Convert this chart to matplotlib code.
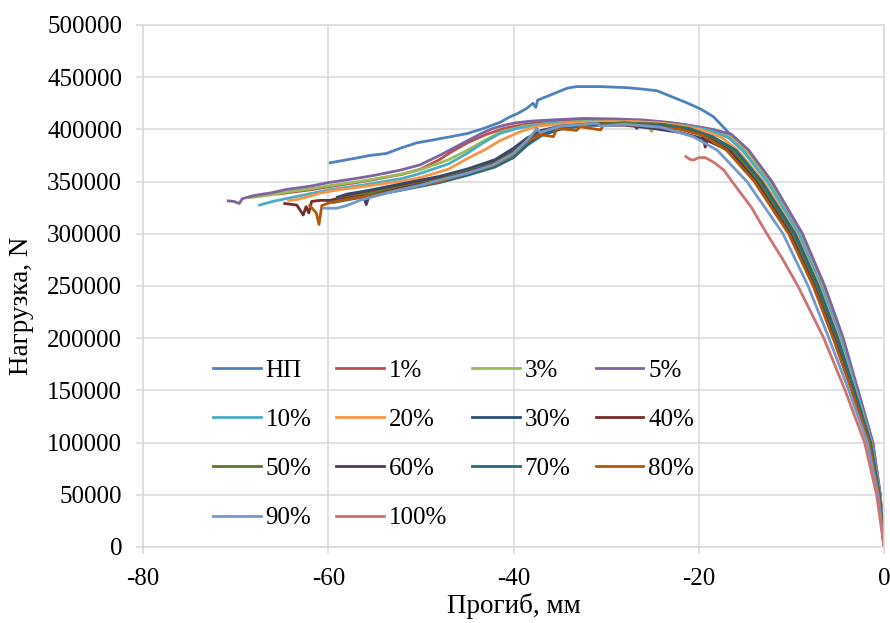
import matplotlib.pyplot as plt
from matplotlib.ticker import FuncFormatter

plt.rcParams['font.family'] = ['Liberation Serif', 'DejaVu Serif']
plt.rcParams['axes.unicode_minus'] = False

# series labels and colours (Excel palette)
labels = ['НП', '1%', '3%', '5%', '10%', '20%', '30%', '40%',
          '50%', '60%', '70%', '80%', '90%', '100%']
colors = ['#4F81BD', '#C0504D', '#9BBB59', '#8064A2', '#4BACC6', '#F79646', '#2C4D75',
          '#772C2A', '#5F7530', '#4D3B62', '#276A7C', '#B65708', '#729ACA', '#CD7371']

# deflection (mm) and load (kN)
x_np = [-59.8, -57.3, -55.5, -53.7, -52.2, -50.5, -48.6, -46.8, -45.0, -43.2, -41.4, -40.4, -39.6,
        -38.6, -37.9, -37.6, -37.4, -36.0, -34.2, -33.2, -30.6, -27.8, -26.0, -24.5, -23.4, -22.0,
        -21.3, -19.8, -18.4, -17.0, -15.1, -12.5, -9.1, -6.7, -4.6, -2.95, -1.3, -0.44, 0]
y_np = [368, 372, 375, 377, 382, 387, 390, 393, 396, 401, 407, 412, 415,
        420, 425, 421, 428, 433, 439.5, 441, 441, 440, 438.5, 437, 433, 428,
        425.5, 419.5, 412, 399, 380, 350, 300, 250, 200, 150, 100, 50, 0]

x_1 = [-65.5, -62.0, -60.0, -57.0, -55.0, -52.0, -50.0, -48.0, -46.8, -45.0, -43.0, -41.0, -39.0,
       -37.0, -34.0, -30.0, -27.0, -24.0, -21.5, -19.5, -17.5, -16.2, -14.8, -12.2, -8.9, -6.5,
       -4.5, -2.85, -1.23, -0.41, 0]
y_1 = [338, 342, 345, 349, 352, 357, 362, 371, 378, 387, 395, 401, 404.5,
       407, 408.5, 409, 408.5, 407, 404.5, 401.5, 396.5, 391, 380, 350, 300, 250,
       200, 150, 100, 50, 0]

x_3 = [-68.5, -66.0, -64.5, -62.0, -60.0, -56.0, -52.2, -50.0, -47.0, -45.0, -43.0, -41.5, -39.0,
       -36.0, -32.0, -28.0, -25.6, -25.1, -24.6, -22.0, -19.5, -17.5, -16.3, -14.9, -12.4, -9.0,
       -6.6, -4.55, -2.9, -1.26, -0.43, 0]
y_3 = [334.5, 337.5, 340, 343, 346, 351, 357, 361.5, 371, 380, 390, 397, 403,
       406, 408, 408, 407, 398, 406, 405, 401, 396.5, 392, 380, 350, 300,
       250, 200, 150, 100, 50, 0]

x_5 = [-70.8, -70.2, -69.6, -69.3, -68.1, -66.0, -64.5, -62.0, -60.0, -57.0, -55.0, -52.2, -50.1,
       -48.0, -46.5, -45.0, -43.5, -42.2, -41.0, -39.6, -38.0, -36.0, -32.5, -29.0, -26.0, -23.0,
       -20.5, -18.5, -16.5, -14.6, -12.1, -8.8, -6.4, -4.4, -2.8, -1.2, -0.4, 0]
y_5 = [331.5, 331, 329, 333.5, 336.5, 339.5, 342.5, 345.5, 349, 353, 356, 361, 366,
       375, 382, 389, 396, 401, 404, 406.5, 408, 409, 410.5, 410, 409, 406.5,
       403, 400, 395.5, 380, 350, 300, 250, 200, 150, 100, 50, 0]

x_10 = [-67.4, -66.0, -63.0, -60.0, -56.0, -52.0, -50.0, -47.0, -45.0, -43.3, -41.5, -39.6, -37.0,
        -33.0, -28.0, -24.0, -21.0, -18.8, -16.8, -15.3, -12.6, -9.2, -6.8, -4.7, -3.0, -1.32,
        -0.45, 0]
y_10 = [327.5, 331, 336.5, 342, 347, 353, 358, 367, 377, 387, 396, 401, 405,
        407, 407.5, 406, 403, 399, 392, 380, 350, 300, 250, 200, 150, 100,
        50, 0]

x_20 = [-64.3, -63.5, -62.0, -60.9, -59.0, -56.0, -52.0, -50.0, -47.0, -45.0, -43.0, -41.5, -39.5,
        -37.5, -34.0, -30.0, -27.0, -24.0, -21.5, -19.5, -17.5, -15.8, -13.0, -9.5, -7.0, -4.9,
        -3.15, -1.4, -0.49, 0]
y_20 = [332, 332.5, 336, 339, 342, 345.5, 350.5, 354, 362, 372, 381, 389, 397,
        403, 406, 407.5, 407.5, 406, 403, 399, 392, 380, 350, 300, 250, 200,
        150, 100, 50, 0]

x_30 = [-59.0, -58.0, -56.0, -52.0, -48.0, -45.0, -42.0, -40.0, -38.5, -37.0, -35.0, -32.0, -28.0,
        -27.0, -26.7, -26.4, -24.0, -21.0, -18.8, -16.6, -13.7, -10.05, -7.5, -5.3, -3.4, -1.56,
        -0.55, 0]
y_30 = [335, 338, 341, 348, 355, 362, 371, 382, 392, 399, 403, 405, 406,
        405.5, 401, 405, 404, 399.5, 393, 380, 350, 300, 250, 200, 150, 100,
        50, 0]

x_40 = [-64.7, -63.4, -62.7, -62.4, -62.1, -61.8, -60.9, -59.8, -58.0, -56.0, -52.0, -48.0, -45.0,
        -42.0, -40.0, -38.5, -37.0, -35.0, -32.0, -28.0, -24.0, -21.0, -19.6, -19.3, -19.0, -18.0,
        -16.5, -13.6, -9.95, -7.4, -5.25, -3.35, -1.53, -0.54, 0]
y_40 = [329, 327.5, 318, 326, 320, 331, 332, 332, 336, 339, 346, 353, 360,
        369, 379, 390, 398, 402, 405, 406, 404.5, 400, 395, 383, 393, 388.5,
        380, 350, 300, 250, 200, 150, 100, 50, 0]

x_50 = [-59.0, -56.0, -52.0, -48.0, -45.0, -42.0, -40.0, -38.5, -37.0, -35.0, -32.0, -28.0, -24.0,
        -21.0, -18.6, -16.3, -13.45, -9.85, -7.3, -5.2, -3.3, -1.5, -0.53, 0]
y_50 = [333, 338, 345, 352, 360, 368, 378, 389, 397, 402, 405, 406, 405,
        401, 393, 380, 350, 300, 250, 200, 150, 100, 50, 0]

x_60 = [-60.0, -58.0, -56.2, -55.9, -55.6, -52.0, -48.0, -45.0, -42.0, -40.0, -38.5, -37.0, -35.0,
        -32.0, -28.0, -25.0, -22.0, -19.5, -16.8, -13.85, -10.15, -7.55, -5.4, -3.45, -1.6,
        -0.56, 0]
y_60 = [331, 334, 336, 328, 336, 344, 351, 359, 367, 377, 388, 396, 401,
        404, 404, 401, 397, 391, 380, 350, 300, 250, 200, 150, 100,
        50, 0]

x_70 = [-59.5, -57.0, -55.0, -52.0, -48.0, -45.0, -42.0, -40.0, -38.5, -37.0, -35.0, -32.0, -28.0,
        -24.0, -21.0, -18.5, -16.0, -13.2, -9.6, -7.1, -5.0, -3.2, -1.44, -0.5, 0]
y_70 = [330, 334, 337, 342, 349, 356, 364, 373, 385, 394, 400, 404, 405,
        404, 400, 393, 380, 350, 300, 250, 200, 150, 100, 50, 0]

x_80 = [-62.0, -61.3, -61.0, -60.7, -59.8, -58.0, -55.0, -52.0, -48.0, -45.0, -42.0, -40.0, -38.6,
        -37.1, -35.7, -35.3, -33.2, -32.8, -30.6, -30.3, -28.0, -25.0, -22.0, -19.5, -17.0, -14.0,
        -10.3, -7.65, -5.5, -3.5, -1.62, -0.58, 0]
y_80 = [327, 320, 309, 327, 330, 333, 337, 343, 350, 358, 366, 376, 388,
        395, 393, 401, 399, 402.5, 399.5, 404, 404.5, 403, 400, 394, 380, 350,
        300, 250, 200, 150, 100, 50, 0]

x_90 = [-60.5, -59.1, -58.0, -56.6, -53.7, -50.0, -48.6, -45.0, -42.2, -40.0, -38.6, -37.9, -37.5,
        -37.1, -35.0, -32.0, -31.0, -30.6, -28.0, -24.0, -22.5, -20.6, -18.0, -14.8, -10.9, -8.2,
        -5.95, -3.8, -1.8, -0.65, 0]
y_90 = [324.5, 324.5, 327, 332, 339, 346.5, 350, 358, 366, 377, 389, 396, 401,
        397, 403, 405, 406, 403, 405, 402, 398, 393, 380, 350, 300, 250,
        200, 150, 100, 50, 0]

x_100 = [-21.4, -21.0, -20.6, -20.0, -19.3, -18.3, -17.3, -16.4, -14.3, -12.65, -10.9, -9.3, -7.9,
         -6.5, -4.2, -2.1, -0.8, 0]
y_100 = [374, 371.5, 370.5, 373, 373, 368, 361, 350, 325, 300, 275, 250, 225,
         200, 150, 100, 50, 0]

xs = [x_np, x_1, x_3, x_5, x_10, x_20, x_30, x_40, x_50, x_60, x_70, x_80, x_90, x_100]
ys = [y_np, y_1, y_3, y_5, y_10, y_20, y_30, y_40, y_50, y_60, y_70, y_80, y_90, y_100]

fig = plt.figure(figsize=(8.9, 6.23), dpi=100)
ax = fig.add_axes([0.1607, 0.122, 0.8326, 0.8379])

lines = []
for x, y, lab, c in zip(xs, ys, labels, colors):
    ln, = ax.plot(x, [v * 1000 for v in y], color=c, lw=2.0, label=lab, solid_joinstyle='round')
    lines.append(ln)

ax.set_xlim(-80, 0)
ax.set_ylim(0, 500000)
ax.set_xticks([-80, -60, -40, -20, 0])
ax.set_yticks(range(0, 500001, 50000))
ax.yaxis.set_major_formatter(FuncFormatter(lambda v, p: '%d' % v))
ax.set_axisbelow(True)
ax.grid(True, color='#D9D9D9', lw=1.1)
for s in ax.spines.values():
    s.set_color('#D9D9D9')
    s.set_linewidth(1.1)
ax.tick_params(axis='both', colors='#D9D9D9', labelcolor='black', labelsize=18,
               length=5, width=1.1, direction='out')
ax.tick_params(axis='y', pad=10)
ax.tick_params(axis='x', pad=10)

ax.set_xlabel('Прогиб, мм', fontsize=19.5, labelpad=2)
ax.set_ylabel('Нагрузка, N', fontsize=19.5)
ax.yaxis.set_label_coords(-0.147, 0.462)

# legend filled row by row like the original
order = [0, 4, 8, 12, 1, 5, 9, 13, 2, 6, 10, 3, 7, 11]
ax.legend([lines[i] for i in order], [labels[i] for i in order], ncol=4, frameon=False,
          fontsize=18, loc='upper left', bbox_to_anchor=(0.0945, 0.36), borderaxespad=0,
          borderpad=0, handlelength=1.9, handletextpad=0.2, columnspacing=1.0,
          labelspacing=1.07)

fig.savefig('out.png', dpi=100)
